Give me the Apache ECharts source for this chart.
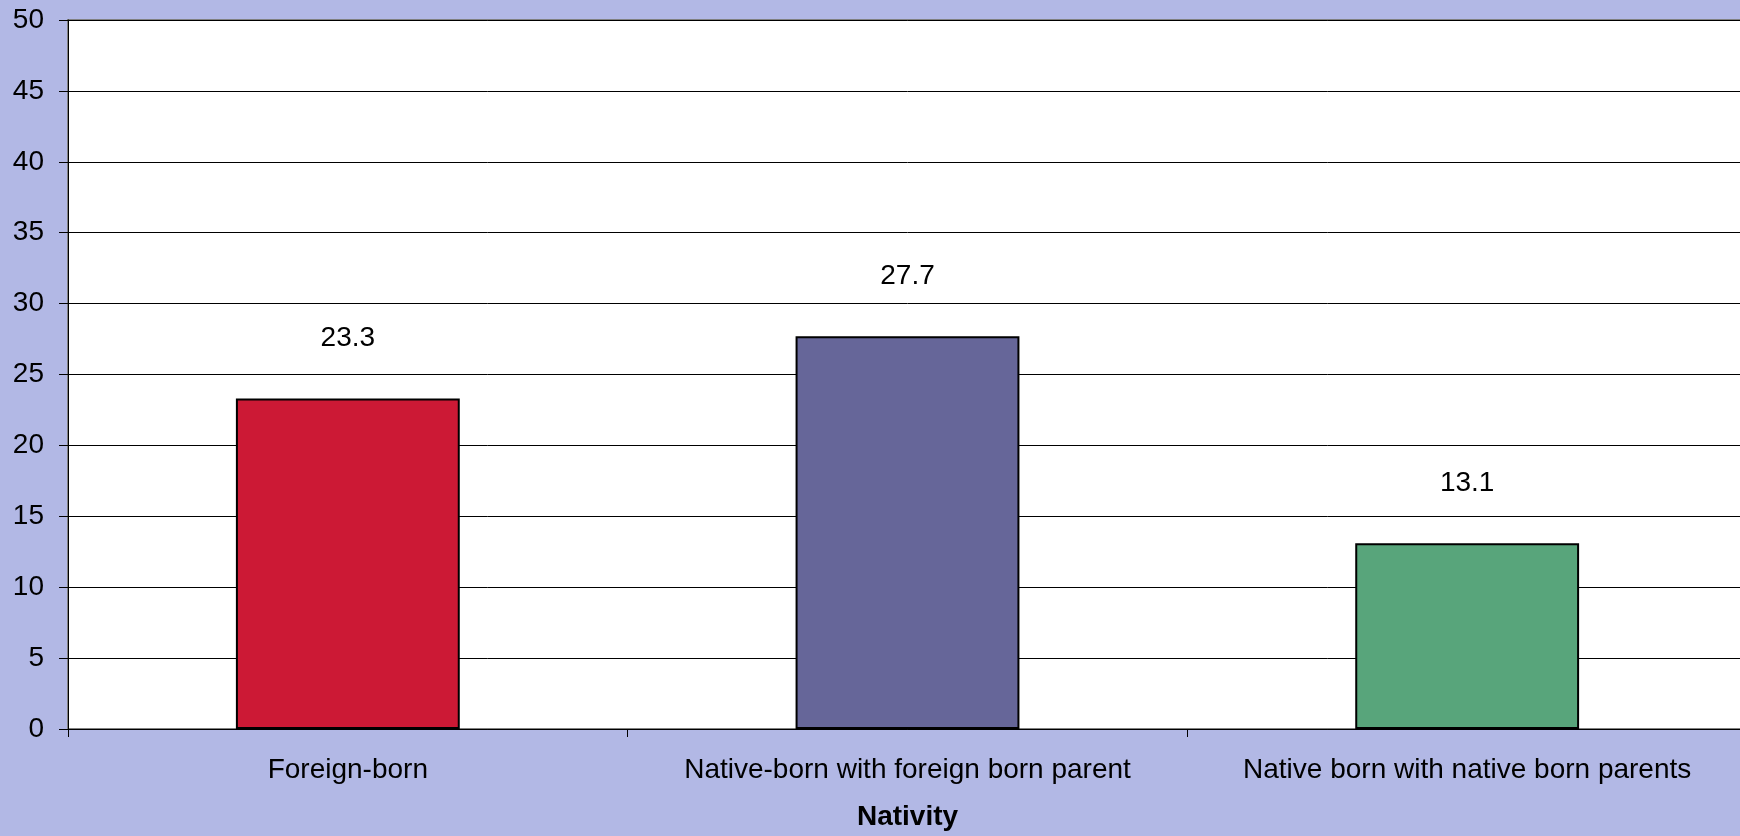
<!DOCTYPE html>
<html>
<head>
<meta charset="utf-8">
<style>
  html, body { margin: 0; padding: 0; background: #B2B8E5; overflow: hidden; }
  #chart { width: 1750px; height: 836px; }
</style>
<script src="https://cdn.jsdelivr.net/npm/echarts@6/dist/echarts.min.js"></script>
</head>
<body>
<div id="chart"></div>
<script>
// Share by nativity group
const categories = ['Foreign-born', 'Native-born with foreign born parent', 'Native born with native born parents'];
const values = [23.3, 27.7, 13.1];
const barColors = ['#CC1935', '#666699', '#58A57B'];
const axisTitle = 'Nativity';

const chart = echarts.init(document.getElementById('chart'), null, { renderer: 'canvas' });
const font = 'Arial, "Liberation Sans", sans-serif';

chart.setOption({
  backgroundColor: '#B2B8E5',
  animation: false,
  grid: {
    left: 68, right: 3, top: 20, bottom: 106,
    show: true,
    backgroundColor: '#FFFFFF',
    borderColor: '#808080',
    borderWidth: 2
  },
  xAxis: {
    type: 'category',
    data: categories,
    name: axisTitle,
    nameLocation: 'middle',
    nameGap: 74,
    nameTextStyle: { fontFamily: font, fontSize: 28, fontWeight: 'bold', color: '#000' },
    axisLine: { show: true, lineStyle: { color: '#000', width: 1 } },
    axisTick: { show: true, length: 8, inside: false, alignWithLabel: false, lineStyle: { color: '#000' } },
    axisLabel: { fontFamily: font, fontSize: 28, color: '#000', margin: 27, interval: 0 },
    splitLine: { show: false }
  },
  yAxis: {
    type: 'value',
    min: 0, max: 50, interval: 5,
    axisLine: { show: true, lineStyle: { color: '#000', width: 1 } },
    axisTick: { show: true, length: 9, inside: false, lineStyle: { color: '#000' } },
    axisLabel: { fontFamily: font, fontSize: 28, color: '#000', margin: 24 },
    splitLine: { show: true, lineStyle: { color: '#000', width: 1 } }
  },
  series: [{
    type: 'bar',
    barWidth: '40%',
    data: values.map((v, i) => ({
      value: v,
      itemStyle: { color: barColors[i], borderColor: '#000', borderWidth: 2 }
    })),
    label: {
      show: true,
      position: 'top',
      distance: 46,
      fontFamily: font,
      fontSize: 28,
      color: '#000'
    }
  }]
});
</script>
</body>
</html>
